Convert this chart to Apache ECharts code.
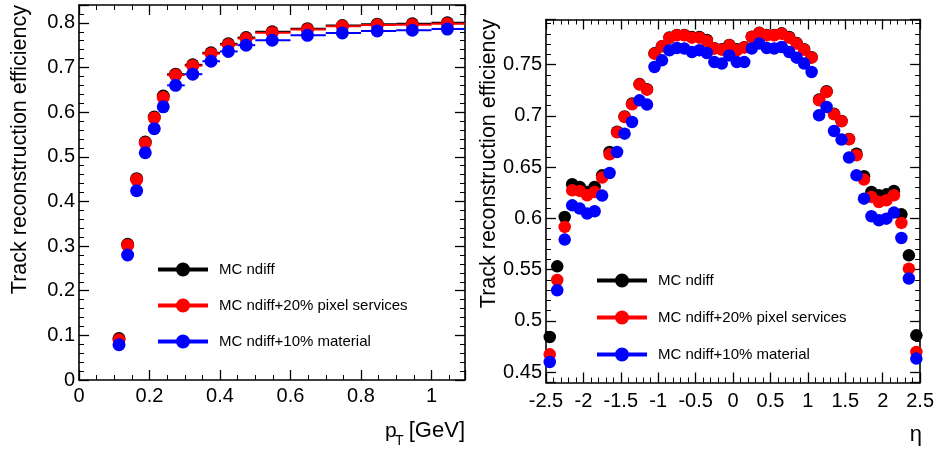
<!DOCTYPE html>
<html>
<head>
<meta charset="utf-8">
<script src="https://cdn.jsdelivr.net/npm/echarts@6/dist/echarts.min.js"></script>
<style>
  html, body { margin: 0; padding: 0; background: #ffffff; }
  #chart { width: 937px; height: 451px; }
</style>
</head>
<body>
<div id="chart"></div>
<script>
// Sample names and colours
const sampleNames = ['MC ndiff', 'MC ndiff+20% pixel services', 'MC ndiff+10% material'];
const sampleColors = ['#000000', '#ff0000', '#0000ff'];

// Efficiency vs pT: bin mean, bin edges [GeV]
const ptMean = [0.1135, 0.138, 0.1635, 0.188, 0.2135, 0.239, 0.274, 0.3225, 0.3745, 0.4236, 0.474, 0.548, 0.648, 0.747, 0.846, 0.9455, 1.045];
const ptLow  = [0.100, 0.125, 0.150, 0.175, 0.200, 0.225, 0.25, 0.30, 0.35, 0.40, 0.45, 0.5, 0.6, 0.7, 0.8, 0.9, 1.0];
const ptHigh = [0.125, 0.150, 0.175, 0.200, 0.225, 0.250, 0.30, 0.35, 0.40, 0.45, 0.50, 0.6, 0.7, 0.8, 0.9, 1.0, 1.1];
const effPtNdiff    = [0.093, 0.304, 0.451, 0.533, 0.589, 0.636, 0.685, 0.706, 0.733, 0.753, 0.767, 0.780, 0.787, 0.794, 0.797, 0.798, 0.800];
const effPtPixel    = [0.090, 0.302, 0.449, 0.531, 0.587, 0.633, 0.683, 0.704, 0.731, 0.751, 0.765, 0.778, 0.785, 0.7925, 0.795, 0.796, 0.798];
const effPtMaterial = [0.079, 0.280, 0.424, 0.509, 0.563, 0.612, 0.660, 0.685, 0.714, 0.736, 0.750, 0.761, 0.772, 0.7775, 0.782, 0.7835, 0.786];

// Efficiency vs eta: bin centres
const etaCenters = [-2.45, -2.35, -2.25, -2.15, -2.05, -1.95, -1.85, -1.75, -1.65, -1.55,
                    -1.45, -1.35, -1.25, -1.15, -1.05, -0.95, -0.85, -0.75, -0.65, -0.55,
                    -0.45, -0.35, -0.25, -0.15, -0.05, 0.05, 0.15, 0.25, 0.35, 0.45,
                    0.55, 0.65, 0.75, 0.85, 0.95, 1.05, 1.15, 1.25, 1.35, 1.45,
                    1.55, 1.65, 1.75, 1.85, 1.95, 2.05, 2.15, 2.25, 2.35, 2.45];
const effEtaNdiff = [0.4844, 0.5533, 0.6014, 0.6333, 0.6307, 0.6258, 0.6307, 0.6420, 0.6648, 0.6845,
                     0.6995, 0.7120, 0.7310, 0.7260, 0.7610, 0.7680, 0.7765, 0.7790, 0.7790, 0.7770,
                     0.7770, 0.7740, 0.7660, 0.7650, 0.7692, 0.7650, 0.7670, 0.7772, 0.7810, 0.7790,
                     0.7790, 0.7805, 0.7770, 0.7710, 0.7650, 0.7572, 0.7160, 0.7240, 0.7020, 0.6950,
                     0.6775, 0.6632, 0.6411, 0.6258, 0.6226, 0.6235, 0.6268, 0.6040, 0.5640, 0.4860];
const effEtaPixel = [0.4675, 0.5400, 0.5917, 0.6274, 0.6268, 0.6226, 0.6258, 0.6398, 0.6625, 0.6840,
                     0.6989, 0.7113, 0.7305, 0.7256, 0.7607, 0.7678, 0.7760, 0.7786, 0.7786, 0.7763,
                     0.7763, 0.7730, 0.7656, 0.7646, 0.7688, 0.7640, 0.7666, 0.7770, 0.7808, 0.7786,
                     0.7786, 0.7802, 0.7763, 0.7705, 0.7646, 0.7568, 0.7152, 0.7233, 0.7015, 0.6947,
                     0.6772, 0.6616, 0.6379, 0.6210, 0.6160, 0.6177, 0.6226, 0.5956, 0.5510, 0.4698];
const effEtaMaterial = [0.4600, 0.5300, 0.5794, 0.6128, 0.6096, 0.6047, 0.6070, 0.6223, 0.6443, 0.6648,
                        0.6827, 0.6940, 0.7152, 0.7110, 0.7477, 0.7542, 0.7640, 0.7662, 0.7656, 0.7623,
                        0.7640, 0.7613, 0.7525, 0.7510, 0.7590, 0.7525, 0.7525, 0.7656, 0.7705, 0.7662,
                        0.7656, 0.7672, 0.7623, 0.7568, 0.7510, 0.7428, 0.7006, 0.7087, 0.6853, 0.6769,
                        0.6593, 0.6420, 0.6193, 0.6021, 0.5982, 0.5998, 0.6057, 0.5809, 0.5414, 0.4633];

// Tick label sets
const ptTickLabels = ['0', '0.2', '0.4', '0.6', '0.8', '1'];
const effPtTickLabels = ['0', '0.1', '0.2', '0.3', '0.4', '0.5', '0.6', '0.7', '0.8'];
const etaTickLabels = ['-2.5', '-2', '-1.5', '-1', '-0.5', '0', '0.5', '1', '1.5', '2', '2.5'];
const effEtaTickLabels = ['0.45', '0.5', '0.55', '0.6', '0.65', '0.7', '0.75'];

const FONT = '"Liberation Sans", Arial, Helvetica, sans-serif';

function fmtFrom(list) {
  return function (v) {
    const s = String(+v.toFixed(3));
    return list.indexOf(s) >= 0 ? s : '';
  };
}

function frameAxis(extra, labels, labelMargin) {
  return Object.assign({
    type: 'value',
    axisLine: { show: true, onZero: false, lineStyle: { color: '#000', width: 1.6 } },
    axisTick: { show: true, inside: true, length: 10, lineStyle: { color: '#000', width: 1.3 } },
    minorTick: { show: true, length: 5, lineStyle: { color: '#000', width: 1 } },
    splitLine: { show: false },
    axisLabel: labels ? {
      show: true, color: '#000', fontFamily: FONT, fontSize: 20, margin: labelMargin,
      formatter: fmtFrom(labels), showMinLabel: true, showMaxLabel: true, hideOverlap: false
    } : { show: false }
  }, extra);
}

function minor(n) {
  return { show: true, splitNumber: n, length: 5, lineStyle: { color: '#000', width: 1 } };
}

function pairs(xs, ys) { return xs.map((x, i) => [x, ys[i]]); }
function binRows(lo, hi, ys) { return ys.map((y, i) => [lo[i], hi[i], y]); }

// Horizontal bars spanning each pT bin
function renderXErr(params, api) {
  const y = api.value(2);
  const a = api.coord([api.value(0), y]);
  const b = api.coord([api.value(1), y]);
  return {
    type: 'line',
    shape: { x1: a[0], y1: a[1], x2: b[0], y2: b[1] },
    style: { stroke: api.visual('color'), lineWidth: 2 }
  };
}

const ptSets = [effPtNdiff, effPtPixel, effPtMaterial];
const etaSets = [effEtaNdiff, effEtaPixel, effEtaMaterial];

const series = [];
ptSets.forEach((ys, k) => {
  series.push({
    type: 'custom', xAxisIndex: 0, yAxisIndex: 0, clip: true,
    renderItem: renderXErr, encode: { x: [0, 1], y: 2 },
    itemStyle: { color: sampleColors[k] },
    data: binRows(ptLow, ptHigh, ys), silent: true
  });
  series.push({
    name: sampleNames[k], type: 'scatter', xAxisIndex: 0, yAxisIndex: 0,
    symbol: 'circle', symbolSize: 13,
    itemStyle: { color: sampleColors[k], opacity: 1 },
    data: pairs(ptMean, ys)
  });
});
etaSets.forEach((ys, k) => {
  series.push({
    name: sampleNames[k], type: 'scatter', xAxisIndex: 2, yAxisIndex: 2,
    symbol: 'circle', symbolSize: 12.5,
    itemStyle: { color: sampleColors[k], opacity: 1 },
    data: pairs(etaCenters, ys)
  });
});

// Legend icon: a thick line segment with a marker in the middle
const legendIcon = 'path://M0,5L50,5L50,9L0,9Z M32,7A7,7 0 1,1 18,7A7,7 0 1,1 32,7Z';
function legendAt(left, top, gap) {
  return {
    orient: 'vertical', left: left, top: top, itemGap: gap, padding: 0,
    itemWidth: 50, itemHeight: 14, icon: legendIcon, selectedMode: false,
    data: sampleNames,
    textStyle: { color: '#000', fontFamily: FONT, fontSize: 15, padding: [0, 0, 0, 6] }
  };
}

const titleStyle = { fill: '#000', font: '21.5px ' + FONT };

const option = {
  animation: false,
  backgroundColor: '#ffffff',
  grid: [
    { left: 79, top: 5, width: 386, height: 375 },
    { left: 546, top: 19.5, width: 377, height: 363 }
  ],
  xAxis: [
    frameAxis({ gridIndex: 0, position: 'bottom', min: 0, max: 1.095, interval: 0.2, minorTick: minor(4) }, ptTickLabels, 6),
    frameAxis({ gridIndex: 0, position: 'top', min: 0, max: 1.095, interval: 0.2, minorTick: minor(4) }, null),
    frameAxis({ gridIndex: 1, position: 'bottom', min: -2.5, max: 2.5, interval: 0.5, minorTick: minor(5) }, etaTickLabels, 9),
    frameAxis({ gridIndex: 1, position: 'top', min: -2.5, max: 2.5, interval: 0.5, minorTick: minor(5) }, null)
  ],
  yAxis: [
    frameAxis({ gridIndex: 0, position: 'left', min: 0, max: 0.84, interval: 0.1, minorTick: minor(5) }, effPtTickLabels, 4),
    frameAxis({ gridIndex: 0, position: 'right', min: 0, max: 0.84, interval: 0.1, minorTick: minor(5) }, null),
    frameAxis({ gridIndex: 1, position: 'left', min: 0.44, max: 0.794, splitNumber: 7, minInterval: 0.05, maxInterval: 0.05, minorTick: minor(5) }, effEtaTickLabels, 4),
    frameAxis({ gridIndex: 1, position: 'right', min: 0.44, max: 0.794, splitNumber: 7, minInterval: 0.05, maxInterval: 0.05, minorTick: minor(5) }, null)
  ],
  legend: [legendAt(158, 262, 21), legendAt(597, 273, 22)],
  graphic: [
    { type: 'text', x: 20, y: 5, rotation: Math.PI / 2,
      style: Object.assign({ text: 'Track reconstruction efficiency', align: 'right', verticalAlign: 'middle' }, titleStyle) },
    { type: 'text', x: 489, y: 19, rotation: Math.PI / 2,
      style: Object.assign({ text: 'Track reconstruction efficiency', align: 'right', verticalAlign: 'middle' }, titleStyle) },
    { type: 'text', x: 385, y: 431,
      style: { text: 'p', align: 'left', verticalAlign: 'middle', fill: '#000', font: '21px ' + FONT } },
    { type: 'text', x: 395, y: 441,
      style: { text: 'T', align: 'left', verticalAlign: 'middle', fill: '#000', font: '14px ' + FONT } },
    { type: 'text', x: 465, y: 431,
      style: { text: '[GeV]', align: 'right', verticalAlign: 'middle', fill: '#000', font: '22px ' + FONT } },
    { type: 'text', x: 922, y: 435,
      style: { text: 'η', align: 'right', verticalAlign: 'middle', fill: '#000', font: '22px ' + FONT } }
  ],
  series: series
};

const chart = echarts.init(document.getElementById('chart'), null, { renderer: 'canvas' });
chart.setOption(option);
</script>
</body>
</html>
